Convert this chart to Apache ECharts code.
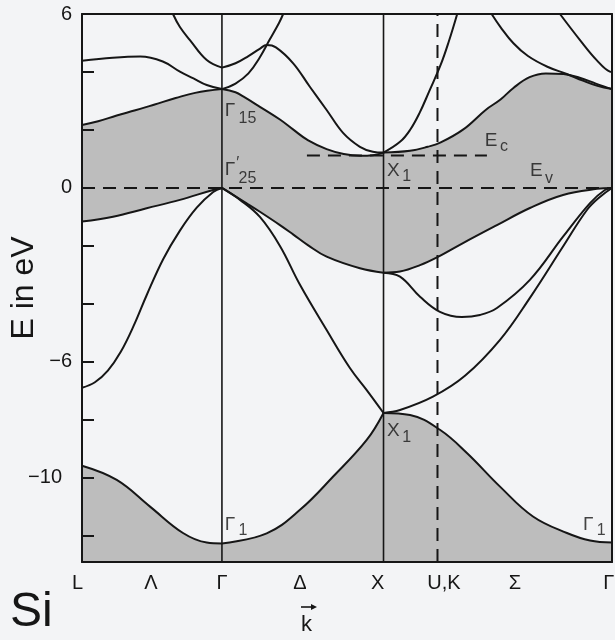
<!DOCTYPE html>
<html><head><meta charset="utf-8">
<script src="https://cdn.jsdelivr.net/npm/echarts@6/dist/echarts.min.js"></script>
<style>html,body{margin:0;padding:0;background:#f3f4f6;}#c{width:615px;height:640px;}</style>
</head><body><div id="c"></div>
<script>
// k-path symmetry points (L, Γ, X, U/K, Γ)
const symK = [0, 0.866, 1.866, 2.20, 3.28];
const kLabels = ['L','Λ','Γ','Δ','X','U,K','Σ','Γ'];
const kLabelPos = [0, 0.426, 0.866, 1.349, 1.83, 2.24, 2.68, 3.26];
const yTicks = [6,4,2,0,-2,-4,-6,-8,-10,-12];
const yTickLabels = [6,0,-6,-10];
const EMIN = -12.9, EMAX = 6;
const eV = 0, eC = 1.12, eCFrom = 1.392, eCTo = 2.506;

// valence bands [k, E]
const band1_LG = [[0,-9.58],[0.215,-10.07],[0.421,-10.99],[0.625,-11.90],[0.772,-12.23],[0.866,-12.26]];
const band1_GX = [[0.866,-12.26],[1.143,-11.91],[1.349,-11.10],[1.553,-9.96],[1.762,-8.69],[1.866,-7.76]];
const band1_XG = [[1.866,-7.76],[2.030,-7.83],[2.215,-8.34],[2.382,-9.14],[2.587,-10.30],[2.791,-11.33],[3.001,-11.90],[3.144,-12.16],[3.28,-12.23]];
const band2_LG = [[0,-6.89],[0.08,-6.70],[0.16,-6.30],[0.24,-5.65],[0.32,-4.75],[0.40,-3.70],[0.503,-2.45],[0.606,-1.47],[0.71,-0.68],[0.812,-0.14],[0.866,0]];
const band2_GX = [[0.866,0],[0.978,-0.41],[1.101,-1.0],[1.225,-2.0],[1.349,-3.34],[1.514,-4.90],[1.658,-6.21],[1.762,-6.97],[1.866,-7.76]];
const band2_XG = [[1.866,-7.76],[1.968,-7.66],[2.172,-7.2],[2.37,-6.48],[2.587,-5.24],[2.772,-3.79],[2.977,-2.02],[3.125,-0.76],[3.205,-0.31],[3.28,0]];
const band3_XG = [[1.866,-2.92],[1.968,-3.06],[2.092,-3.75],[2.215,-4.27],[2.351,-4.45],[2.463,-4.38],[2.568,-4.14],[2.772,-3.17],[2.977,-1.68],[3.144,-0.52],[3.236,-0.07],[3.28,0]];
const band4_LG = [[0,-1.16],[0.192,-0.99],[0.40,-0.70],[0.606,-0.41],[0.811,-0.07],[0.866,0]];
const band4_GX = [[0.866,0],[1.019,-0.53],[1.101,-0.82],[1.225,-1.28],[1.306,-1.60],[1.40,-1.98],[1.514,-2.37],[1.72,-2.77],[1.866,-2.92]];
const band4_XG = [[1.866,-2.92],[1.968,-2.88],[2.092,-2.66],[2.215,-2.34],[2.358,-1.90],[2.568,-1.28],[2.772,-0.69],[2.977,-0.24],[3.187,-0.03],[3.28,0]];
// conduction bands
const band5_LG = [[0,2.17],[0.1,2.3],[0.215,2.5],[0.33,2.68],[0.45,2.88],[0.58,3.1],[0.70,3.28],[0.866,3.41]];
const band5_GX = [[0.866,3.41],[0.95,3.30],[1.0,3.15],[1.101,2.80],[1.225,2.36],[1.306,2.02],[1.40,1.64],[1.514,1.34],[1.62,1.17],[1.72,1.11],[1.80,1.13],[1.866,1.22]];
const band5_XG = [[1.866,1.22],[2.03,1.28],[2.14,1.42],[2.22,1.57],[2.36,2.02],[2.50,2.70],[2.59,3.05],[2.67,3.45],[2.77,3.82],[2.87,3.95],[2.98,3.93],[3.08,3.80],[3.18,3.60],[3.28,3.41]];
const cond_LG_a = [[0,4.39],[0.19,4.49],[0.36,4.53],[0.50,4.36],[0.606,4.01],[0.69,3.78],[0.772,3.55],[0.866,3.41]];
const cond_LG_b = [[0.563,6.0],[0.606,5.55],[0.668,5.10],[0.772,4.41],[0.866,4.15]];
const cond_GX_a = [[0.866,3.41],[0.95,3.6],[1.03,3.95],[1.10,4.5],[1.16,5.1],[1.22,5.7],[1.245,6.0]];
const cond_GX_b = [[0.866,4.15],[0.95,4.3],[1.03,4.55],[1.10,4.80],[1.143,4.93],[1.20,4.85],[1.307,4.3],[1.41,3.49],[1.514,2.69],[1.617,1.89],[1.72,1.42],[1.80,1.25],[1.866,1.22]];
const cond_XG_a = [[1.866,1.22],[1.97,1.6],[2.03,2.0],[2.09,2.6],[2.15,3.35],[2.22,4.25],[2.27,5.05],[2.322,6.0]];
const cond_XG_b = [[2.535,6.0],[2.59,5.55],[2.67,4.99],[2.76,4.55],[2.88,4.18],[3.0,3.93],[3.10,3.70],[3.19,3.52],[3.28,3.41]];
const cond_XG_c = [[2.958,6.0],[3.082,5.10],[3.185,4.41],[3.267,4.01],[3.28,4.0]];

// annotations [text, k, E]
const annotMain = [['Γ',0.886,2.66],['Γ',0.886,0.62],['X',1.89,0.59],['X',1.89,-8.38],['Γ',0.886,-11.62],['Γ',3.103,-11.62],['E',2.495,1.62],['E',2.775,0.59]];
const annotSub = [['15',0.972,2.38],['′',0.957,0.82],['25',0.972,0.32],['1',1.985,0.38],['1',1.985,-8.62],['1',0.972,-11.82],['1',3.188,-11.82],['c',2.59,1.40],['v',2.868,0.30]];

const ink = '#161616', grey = '#bdbdbd', bg = '#f3f4f6';
const FF = '"Liberation Sans", Arial, Helvetica, sans-serif';

function lineS(data, z, area) {
  const s = {
    type:'line', data, smooth:0.4, showSymbol:false, symbol:'none',
    lineStyle:{color:ink, width:2}, z, silent:true, animation:false
  };
  if (area) s.areaStyle = {color:area, opacity:1, origin:'start'};
  return s;
}
const series = [];
[band5_LG, band5_GX, band5_XG].forEach(d=>series.push(lineS(d,1,grey)));
[band4_LG, band4_GX, band4_XG].forEach(d=>series.push(lineS(d,2,bg)));
[band1_LG, band1_GX, band1_XG].forEach(d=>series.push(lineS(d,3,grey)));
[band2_LG, band2_GX, band2_XG, band3_XG, cond_LG_a, cond_LG_b, cond_GX_a, cond_GX_b, cond_XG_a, cond_XG_b, cond_XG_c]
  .forEach(d=>series.push(lineS(d,5,null)));
// symmetry lines
[symK[1], symK[2]].forEach(k=>series.push({type:'line', data:[[k,EMIN],[k,EMAX]], showSymbol:false, symbol:'none', lineStyle:{color:ink,width:1.6}, z:6, silent:true}));
const dash = [13,8];
series.push({type:'line', data:[[symK[3],EMIN],[symK[3],EMAX]], showSymbol:false, symbol:'none', lineStyle:{color:ink,width:2,type:dash}, z:6, silent:true});
series.push({type:'line', data:[[symK[0],eV],[symK[4],eV]], showSymbol:false, symbol:'none', lineStyle:{color:ink,width:2,type:dash}, z:6, silent:true});
series.push({type:'line', data:[[eCFrom,eC],[eCTo,eC]], showSymbol:false, symbol:'none', lineStyle:{color:ink,width:2,type:dash}, z:6, silent:true});
// annotation labels
function labelS(arr, size) {
  return {type:'scatter', data:arr.map(a=>[a[1],a[2],a[0]]), symbolSize:1, itemStyle:{color:'transparent'}, z:8, silent:true, clip:false,
    label:{show:true, position:[0,0], align:'left', verticalAlign:'middle', formatter:p=>p.data[2], fontSize:size, color:ink, fontFamily:FF}};
}
series.push(labelS(annotMain,19));
series.push(labelS(annotSub,16));

const chart = echarts.init(document.getElementById('c'), null, {renderer:'canvas'});
chart.setOption({
  animation:false,
  backgroundColor:bg,
  grid:{left:82, right:3, top:14, bottom:78, containLabel:false, outerBoundsMode:'none'},
  xAxis:[
    {type:'value', min:symK[0], max:symK[4], position:'bottom', z:10,
     axisLine:{show:true,onZero:false,lineStyle:{color:ink,width:2}}, axisTick:{show:false}, splitLine:{show:false},
     axisLabel:{customValues:kLabelPos, margin:11, fontSize:20, color:ink, fontFamily:FF,
       formatter:(v)=>{let i=0,b=1e9;kLabelPos.forEach((p,j)=>{if(Math.abs(p-v)<b){b=Math.abs(p-v);i=j;}});return i===0?'{l|L}':kLabels[i];},
       rich:{l:{fontSize:20,color:ink,fontFamily:FF,padding:[0,9,0,0]}}}},
    {type:'value', min:symK[0], max:symK[4], position:'top', z:10,
     axisLine:{show:true,onZero:false,lineStyle:{color:ink,width:2}}, axisTick:{show:false}, axisLabel:{show:false}, splitLine:{show:false}}
  ],
  yAxis:[
    {type:'value', min:EMIN, max:EMAX, position:'left', z:10,
     axisLine:{show:true,onZero:false,lineStyle:{color:ink,width:2}},
     axisTick:{show:true, inside:true, length:12, customValues:yTicks, lineStyle:{color:ink,width:2}},
     axisLabel:{customValues:yTickLabels, margin:10, fontSize:20, color:ink, fontFamily:FF,
       formatter:v=>v===-10?'{p|−10}':(v<0?'−'+Math.abs(v):String(v)),
       rich:{p:{fontSize:20,color:ink,fontFamily:FF,padding:[0,10,0,0]}}},
     splitLine:{show:false},
     name:'E in eV', nameLocation:'middle', nameGap:42, nameRotate:90, nameMoveOverlap:false,
     nameTextStyle:{fontSize:32,color:ink,fontFamily:FF}},
    {type:'value', min:EMIN, max:EMAX, position:'right', z:10,
     axisLine:{show:true,onZero:false,lineStyle:{color:ink,width:2}}, axisTick:{show:false}, axisLabel:{show:false}, splitLine:{show:false}}
  ],
  graphic:[
    {type:'text', left:10, top:589, style:{text:'Si', fontSize:48, fill:ink, fontFamily:FF}},
    {type:'text', left:301, top:614, style:{text:'k', fontSize:22, fill:ink, fontFamily:FF}},
    {type:'line', shape:{x1:301,y1:607,x2:314,y2:607}, style:{stroke:ink,lineWidth:1.6}},
    {type:'polygon', shape:{points:[[317,607],[311,604],[311,610]]}, style:{fill:ink}}
  ],
  series
});
</script></body></html>
